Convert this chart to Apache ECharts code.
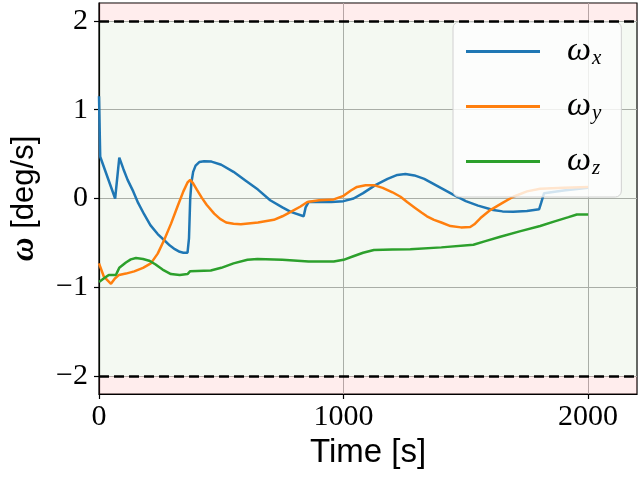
<!DOCTYPE html>
<html>
<head>
<meta charset="utf-8">
<script src="https://cdn.jsdelivr.net/npm/echarts@6/dist/echarts.min.js"></script>
<style>
    html, body { margin: 0; padding: 0; background: #fff; }
    #chart { width: 640px; height: 480px; }
</style>
</head>
<body>
<div id="chart"></div>
<script>
    "use strict";
    // angular rates, [time s, deg/s]
    var omegaX = [[0,1.15],[5,0.47],[66,0.0],[83,0.46],[100,0.33],[117,0.21],[140,0.08],[160,-0.05],[185,-0.18],[210,-0.3],
        [240,-0.4],[267,-0.47],[290,-0.53],[310,-0.57],[330,-0.6],[345,-0.61],[362,-0.61],[368,-0.45],[373,0.0],[378,0.18],
        [385,0.3],[395,0.37],[410,0.41],[430,0.42],[460,0.415],[500,0.38],[550,0.3],[600,0.2],[650,0.1],[700,-0.02],
        [750,-0.1],[784,-0.15],[837,-0.2],[845,-0.1],[857,-0.04],[950,-0.04],[1000,-0.03],[1041,0.0],[1080,0.06],[1130,0.15],
        [1180,0.22],[1220,0.265],[1253,0.275],[1290,0.26],[1330,0.22],[1390,0.13],[1450,0.04],[1500,-0.03],[1550,-0.08],[1612,-0.13],
        [1650,-0.145],[1694,-0.15],[1750,-0.14],[1800,-0.12],[1808,-0.05],[1820,0.06],[1900,0.09],[2000,0.12]];
    var omegaY = [[0,-0.73],[20,-0.88],[49,-0.96],[65,-0.9],[82,-0.86],[110,-0.845],[144,-0.82],[180,-0.78],[212,-0.73],[240,-0.62],
        [266,-0.47],[295,-0.28],[321,-0.09],[345,0.08],[362,0.18],[373,0.21],[385,0.17],[400,0.1],[420,0.01],[440,-0.07],
        [471,-0.17],[495,-0.23],[520,-0.27],[550,-0.285],[580,-0.29],[650,-0.27],[715,-0.24],[750,-0.2],[784,-0.15],[824,-0.09],
        [852,-0.04],[900,-0.02],[960,-0.01],[1000,0.03],[1030,0.09],[1055,0.13],[1090,0.15],[1124,0.15],[1160,0.12],[1200,0.07],
        [1233,0.02],[1260,-0.04],[1290,-0.1],[1320,-0.16],[1341,-0.2],[1370,-0.24],[1400,-0.27],[1437,-0.31],[1480,-0.325],[1518,-0.32],
        [1535,-0.29],[1560,-0.22],[1600,-0.13],[1650,-0.05],[1694,0.02],[1750,0.08],[1804,0.11],[1900,0.12],[2000,0.13]];
    var omegaZ = [[0,-0.94],[25,-0.89],[40,-0.86],[69,-0.86],[76,-0.82],[83,-0.78],[110,-0.72],[130,-0.685],[151,-0.67],[180,-0.68],
        [205,-0.70],[230,-0.74],[260,-0.8],[294,-0.85],[330,-0.86],[362,-0.85],[372,-0.82],[380,-0.81],[457,-0.81],[500,-0.78],
        [550,-0.73],[607,-0.69],[648,-0.68],[750,-0.69],[857,-0.71],[960,-0.71],[1000,-0.69],[1040,-0.65],[1080,-0.61],[1124,-0.58],
        [1200,-0.575],[1273,-0.57],[1400,-0.55],[1531,-0.52],[1580,-0.48],[1641,-0.43],[1720,-0.37],[1804,-0.31],[1860,-0.26],[1920,-0.21],
        [1954,-0.18],[2000,-0.18]];
    var seriesNames = ["ω_x", "ω_y", "ω_z"];
    var seriesColors = ["#1f77b4", "#ff7f0e", "#2ca02c"];
    var xTicks = [0, 1000, 2000];
    var yTicks = [-2, -1, 0, 1, 2];
    var limit = 2;

    var serif = "'Liberation Serif', 'DejaVu Serif', serif";
    var sans = "'Liberation Sans', 'DejaVu Sans', sans-serif";

    var minus = function (v) {
        return v < 0 ? "\u2212" + (-v) : String(v);
    };

    var lineSeries = function (name, data, color) {
        return {
            name: name,
            type: "line",
            data: data,
            showSymbol: false,
            symbol: "none",
            z: 3,
            lineStyle: { color: color, width: 2.5 },
            itemStyle: { color: color }
        };
    };

    var chart = echarts.init(document.getElementById("chart"));
    chart.setOption({
        animation: false,
        grid: {
            left: 98, right: 3, top: 3, bottom: 86,
            show: true, borderColor: "#000", borderWidth: 1.2, backgroundColor: "transparent"
        },
        legend: {
            orient: "vertical",
            left: 453,
            top: 22,
            data: seriesNames,
            icon: "rect",
            itemWidth: 74,
            itemHeight: 3,
            itemGap: 20,
            padding: [12, 20, 18, 13],
            backgroundColor: "rgba(255,255,255,0.8)",
            borderColor: "#d0d0d0",
            borderWidth: 1,
            borderRadius: 6,
            formatter: function (name) {
                return "{w|ω}{s|" + name.split("_")[1] + "}";
            },
            textStyle: {
                rich: {
                    w: { fontFamily: serif, fontStyle: "italic", fontSize: 34, color: "#000", padding: [0, 0, 0, 22], lineHeight: 32 },
                    s: { fontFamily: serif, fontStyle: "italic", fontSize: 21, color: "#000", padding: [14, 0, 0, 1], lineHeight: 32 }
                }
            }
        },
        xAxis: {
            type: "value",
            min: 0,
            max: 2200,
            interval: 1000,
            name: "Time [s]",
            nameLocation: "middle",
            nameGap: 40,
            nameTextStyle: { fontFamily: sans, fontSize: 33, color: "#000" },
            axisLine: { show: true, onZero: false, lineStyle: { color: "#000", width: 1.2 } },
            axisTick: { show: true, length: 5, customValues: xTicks, lineStyle: { color: "#000", width: 1.2 } },
            axisLabel: { customValues: xTicks, margin: 8, fontFamily: serif, fontSize: 30, color: "#000", formatter: function (v) { return String(v); } },
            splitLine: { show: true, lineStyle: { color: "#b0b0b0", width: 1 } }
        },
        yAxis: {
            type: "value",
            min: -2.2,
            max: 2.2,
            splitNumber: 4,
            name: "{b|ω} [deg/s]",
            nameLocation: "middle",
            nameGap: 58,
            nameTextStyle: {
                fontFamily: sans, fontSize: 31, color: "#000",
                rich: { b: { fontFamily: serif, fontWeight: "bold", fontStyle: "italic", fontSize: 33, color: "#000" } }
            },
            axisLine: { show: true, onZero: false, lineStyle: { color: "#000", width: 1.2 } },
            axisTick: { show: true, length: 5, customValues: yTicks, lineStyle: { color: "#000", width: 1.2 } },
            axisLabel: { customValues: yTicks, margin: 11, fontFamily: serif, fontSize: 30, color: "#000", formatter: minus },
            splitLine: { show: true, lineStyle: { color: "#b0b0b0", width: 1 } }
        },
        series: [{
            name: "limits",
            type: "line",
            data: [],
            z: 1,
            silent: true,
            markArea: {
                silent: true,
                label: { show: false },
                data: [
                    [{ yAxis: -limit, itemStyle: { color: "rgba(60,160,40,0.06)" } }, { yAxis: limit }],
                    [{ yAxis: limit, itemStyle: { color: "rgba(255,60,60,0.09)" } }, { yAxis: 2.2 }],
                    [{ yAxis: -2.2, itemStyle: { color: "rgba(255,60,60,0.09)" } }, { yAxis: -limit }]
                ]
            },
            markLine: {
                silent: true,
                symbol: "none",
                label: { show: false },
                lineStyle: { color: "#000", width: 2.6, type: [10, 5] },
                data: [{ yAxis: limit }, { yAxis: -limit }]
            }
        },
            lineSeries(seriesNames[0], omegaX, seriesColors[0]),
            lineSeries(seriesNames[1], omegaY, seriesColors[1]),
            lineSeries(seriesNames[2], omegaZ, seriesColors[2])
        ]
    });
</script>
</body>
</html>
